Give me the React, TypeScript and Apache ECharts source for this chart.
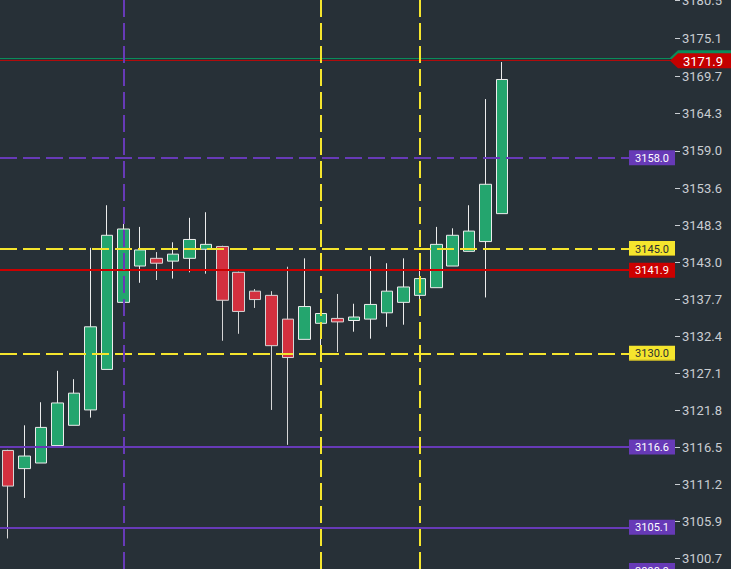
import { useEffect, useRef } from 'react';
import * as echarts from 'echarts';

// ---- data ----
const categories = [
  '1', '2', '3', '4', '5', '6', '7', '8', '9', '10',
  '11', '12', '13', '14', '15', '16', '17', '18', '19', '20',
  '21', '22', '23', '24', '25', '26', '27', '28', '29', '30',
  '31', '32', '33', '34', '35', '36', '37', '38', '39', '40', '41',
];

// [open, close, low, high]
const candles: number[][] = [
  [3116.1, 3111.0, 3103.5, 3116.2],
  [3113.5, 3115.3, 3109.3, 3119.7],
  [3114.3, 3119.4, 3114.3, 3123.0],
  [3116.8, 3122.9, 3116.8, 3127.5],
  [3119.7, 3124.3, 3119.7, 3126.3],
  [3121.9, 3133.8, 3120.8, 3145.1],
  [3127.7, 3146.9, 3127.7, 3151.2],
  [3137.3, 3147.8, 3137.3, 3150.7],
  [3142.5, 3144.8, 3140.1, 3148.1],
  [3143.6, 3142.9, 3140.5, 3144.5],
  [3143.2, 3144.2, 3140.7, 3145.9],
  [3143.6, 3146.3, 3141.6, 3149.4],
  [3144.9, 3145.6, 3141.4, 3150.2],
  [3145.3, 3137.6, 3131.8, 3145.4],
  [3141.6, 3136.0, 3132.8, 3141.7],
  [3138.9, 3137.7, 3136.5, 3139.2],
  [3138.3, 3131.1, 3121.9, 3138.9],
  [3134.9, 3129.4, 3116.9, 3142.4],
  [3132.0, 3136.7, 3132.0, 3143.6],
  [3134.3, 3135.7, 3130.5, 3137.6],
  [3135.0, 3134.5, 3130.2, 3138.5],
  [3134.7, 3135.2, 3133.1, 3137.1],
  [3134.9, 3137.0, 3132.1, 3143.9],
  [3135.8, 3138.9, 3133.8, 3142.9],
  [3137.3, 3139.5, 3134.1, 3143.6],
  [3138.3, 3140.7, 3137.6, 3142.5],
  [3139.4, 3145.6, 3139.4, 3148.1],
  [3142.5, 3146.9, 3142.5, 3147.9],
  [3144.6, 3147.5, 3144.6, 3151.2],
  [3146.0, 3154.2, 3138.0, 3166.4],
  [3150.0, 3169.2, 3150.0, 3171.7],
];

const tickValues = [
  3100.7, 3105.9, 3111.2, 3116.5, 3121.8, 3127.1, 3132.4, 3137.7,
  3143.0, 3148.3, 3153.6, 3159.0, 3164.3, 3169.7, 3175.1, 3180.5,
];

const purpleDashedLevels = [3158.0];
const yellowDashedLevels = [3145.0, 3130.0];
const redLevels = [3141.9];
const purpleSolidLevels = [3116.6, 3105.1, 3098.9];
const greenPriceLevels = [3172.3];
const redPriceLevels = [3171.9];
const purpleVerticalBars = ['8'];
const yellowVerticalBars = ['20', '26'];

const axisMin = 3099.13;
const axisMax = 3180.58;

// ---- styles ----
const BG = '#273037';
const PURPLE = '#673ab7';
const YELLOW = '#f5e52d';
const RED = '#cc0000';
const GREEN_LINE = '#0a8c5a';
const DARK_RED_LINE = '#b00c0c';
const DASH = [17, 6];

function boxLabelSeries(values: number[], bg: string, fg: string, edge?: string) {
  return {
    type: 'custom',
    coordinateSystem: 'cartesian2d',
    clip: false,
    silent: true,
    z: 20,
    data: values.map((v) => [0, v]),
    encode: { x: 0, y: 1 },
    renderItem: (_params: any, api: any) => {
      const v = api.value(1);
      const y = api.coord([0, v])[1];
      const children: any[] = [
        { type: 'rect', shape: { x: 629, y: y - 7.5, width: 46, height: 15 }, style: { fill: bg } },
      ];
      if (edge) {
        children.push({ type: 'rect', shape: { x: 629, y: y + 6.5, width: 46, height: 1 }, style: { fill: edge } });
      }
      children.push({
        type: 'text',
        x: 652,
        y: y + 0.5,
        style: {
          text: Number(v).toFixed(1),
          fill: fg,
          font: '11px Roboto',
          align: 'center',
          textAlign: 'center',
          verticalAlign: 'middle',
          textVerticalAlign: 'middle',
        },
      });
      return { type: 'group', children };
    },
  };
}

function arrowLabelSeries(values: number[], bg: string, fg: string, z: number, showText: boolean) {
  return {
    type: 'custom',
    coordinateSystem: 'cartesian2d',
    clip: false,
    silent: true,
    z,
    data: values.map((v) => [0, v]),
    encode: { x: 0, y: 1 },
    renderItem: (_params: any, api: any) => {
      const v = api.value(1);
      const y = api.coord([0, v])[1];
      const children: any[] = [
        {
          type: 'polygon',
          shape: {
            points: [
              [670, y],
              [678, y - 7.5],
              [732, y - 7.5],
              [732, y + 7.5],
              [678, y + 7.5],
            ],
          },
          style: { fill: bg },
        },
      ];
      if (showText) {
        children.push({
          type: 'text',
          x: 683,
          y: y + 0.5,
          style: {
            text: Number(v).toFixed(1),
            fill: fg,
            font: '13px Roboto',
            align: 'left',
            textAlign: 'left',
            verticalAlign: 'middle',
            textVerticalAlign: 'middle',
          },
        });
      }
      return { type: 'group', children };
    },
  };
}

export default function App() {
  const ref = useRef<HTMLDivElement>(null);

  useEffect(() => {
    if (!ref.current) return;
    document.body.style.margin = '0';
    const chart = echarts.init(ref.current, undefined, { renderer: 'svg' });

    const markData: any[] = [
      ...purpleDashedLevels.map((v) => ({ yAxis: v, lineStyle: { color: PURPLE, width: 2, type: DASH } })),
      ...yellowDashedLevels.map((v) => ({ yAxis: v, lineStyle: { color: YELLOW, width: 2, type: DASH } })),
      ...redLevels.map((v) => ({ yAxis: v, lineStyle: { color: RED, width: 2, type: 'solid' } })),
      ...purpleSolidLevels.map((v) => ({ yAxis: v, lineStyle: { color: PURPLE, width: 2, type: 'solid' } })),
      ...greenPriceLevels.map((v) => ({ yAxis: v, lineStyle: { color: GREEN_LINE, width: 1, type: 'solid' } })),
      ...redPriceLevels.map((v) => ({ yAxis: v, lineStyle: { color: DARK_RED_LINE, width: 1, type: 'solid' } })),
      ...purpleVerticalBars.map((c) => ({ xAxis: c, lineStyle: { color: PURPLE, width: 2, type: DASH } })),
      ...yellowVerticalBars.map((c) => ({ xAxis: c, lineStyle: { color: YELLOW, width: 2, type: DASH } })),
    ];

    chart.setOption({
      animation: false,
      backgroundColor: BG,
      grid: { left: 0, right: 56, top: 0, bottom: 0, containLabel: false, outerBoundsMode: 'none' },
      xAxis: {
        type: 'category',
        data: categories,
        boundaryGap: true,
        show: false,
      },
      yAxis: {
        type: 'value',
        position: 'right',
        min: axisMin,
        max: axisMax,
        scale: true,
        splitLine: { show: false },
        axisLine: { show: false },
        axisTick: {
          show: true,
          length: 5,
          customValues: tickValues,
          lineStyle: { color: '#c9cdd2', width: 1 },
        },
        axisLabel: {
          show: true,
          margin: 7,
          customValues: tickValues,
          color: '#c9cdd2',
          fontSize: 13,
          fontFamily: 'Roboto',
          formatter: (v: number) => Number(v).toFixed(1),
        },
      },
      series: [
        {
          type: 'candlestick',
          data: candles,
          barWidth: 12,
          itemStyle: {
            color: '#24a56e',
            color0: '#d2303f',
            borderColor: '#ececec',
            borderColor0: '#d6d6d6',
            borderWidth: 1,
          },
          markLine: {
            silent: true,
            symbol: ['none', 'none'],
            label: { show: false },
            animation: false,
            data: markData,
          },
        },
        boxLabelSeries(purpleDashedLevels, PURPLE, '#ffffff'),
        boxLabelSeries(yellowDashedLevels, YELLOW, '#2a2f33', '#a89a2a'),
        boxLabelSeries(redLevels, RED, '#ffffff'),
        boxLabelSeries(purpleSolidLevels, PURPLE, '#ffffff'),
        arrowLabelSeries(greenPriceLevels, '#0a8c5a', '#ffffff', 21, false),
        arrowLabelSeries(redPriceLevels, '#c40000', '#ffffff', 22, true),
      ],
    });

    return () => chart.dispose();
  }, []);

  return (
    <div
      ref={ref}
      style={{ position: 'fixed', left: 0, top: 0, width: 731, height: 569, background: BG }}
    />
  );
}
